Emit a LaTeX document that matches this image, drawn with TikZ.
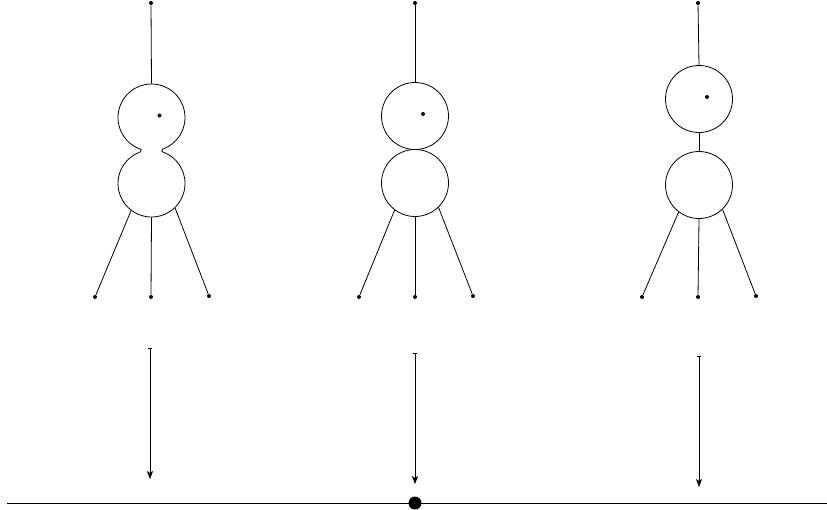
\documentclass[tikz,border=0pt]{standalone}
\usetikzlibrary{arrows.meta,positioning,calc}
\begin{document}
\begin{tikzpicture}[x=1pt, y=-1pt, line width=0.8pt,
    ball/.style={circle, draw, minimum size=67pt, inner sep=0pt},
    ghost/.style={circle, minimum size=67pt, inner sep=0pt},
    dot/.style={circle, fill, inner sep=0pt, minimum size=4pt},
    fall/.style={{Bar[width=4pt]}-{Stealth[length=8pt, width=6pt, inset=2pt]}, line width=0.6pt}
  ]
  \useasboundingbox (0,0) rectangle (827,509);

  % first body: the two balls still pinched together
  \node[ghost] (u1) at (151.5,117.5) {};
  \node[ghost] (l1) at (151.5,183.5) {};
  \draw (140.34,149.09) arc[start angle=109.46, end angle=430.54, radius=33.5]
    arc[start angle=250.54, end angle=109.46, radius=1.5]
    arc[start angle=-70.54, end angle=250.54, radius=33.5]
    arc[start angle=70.54, end angle=-70.54, radius=1.5] -- cycle;

  % second body: balls touching
  \node[ball] (u2) at (415,116) {};
  \node[ball] (l2) at (415,183) {};

  % third body: balls apart, joined by a stick
  \node[ball] (u3) at (699,99) {};
  \node[ball] (l3) at (699,185) {};
  \draw (u3.south) -- (l3.north);

  \foreach \i/\cx in {1/151, 2/415, 3/698} {
    \node[dot] (top\i) at (\cx,3) {};
    \draw (top\i) -- (u\i.north);
    \node[dot] at ($(u\i.center)+(8,-2)$) {};
    \node[dot] (fa\i) at (\cx-56,297) {};
    \node[dot] (fb\i) at (\cx,297) {};
    \node[dot] (fc\i) at (\cx+58,296) {};
    \draw (fa\i) -- (l\i.233);
    \draw (fb\i) -- (l\i.270);
    \draw (fc\i) -- (l\i.314);
  }

  % falling arrows
  \foreach \i/\x/\ya/\yb in {1/150/348/479, 2/415/353/484, 3/699/356/487} {
    \coordinate (s\i) at (\x,\ya);
    \coordinate (e\i) at (\x,\yb);
    \draw[fall] (s\i) -- (e\i);
  }

  % ground
  \coordinate (g0) at (7,503);
  \coordinate (g1) at (827,503);
  \draw (g0) -- (g1);
  \node[circle, fill, inner sep=0pt, minimum size=13pt] (hit) at (415,503) {};
\end{tikzpicture}
\end{document}
